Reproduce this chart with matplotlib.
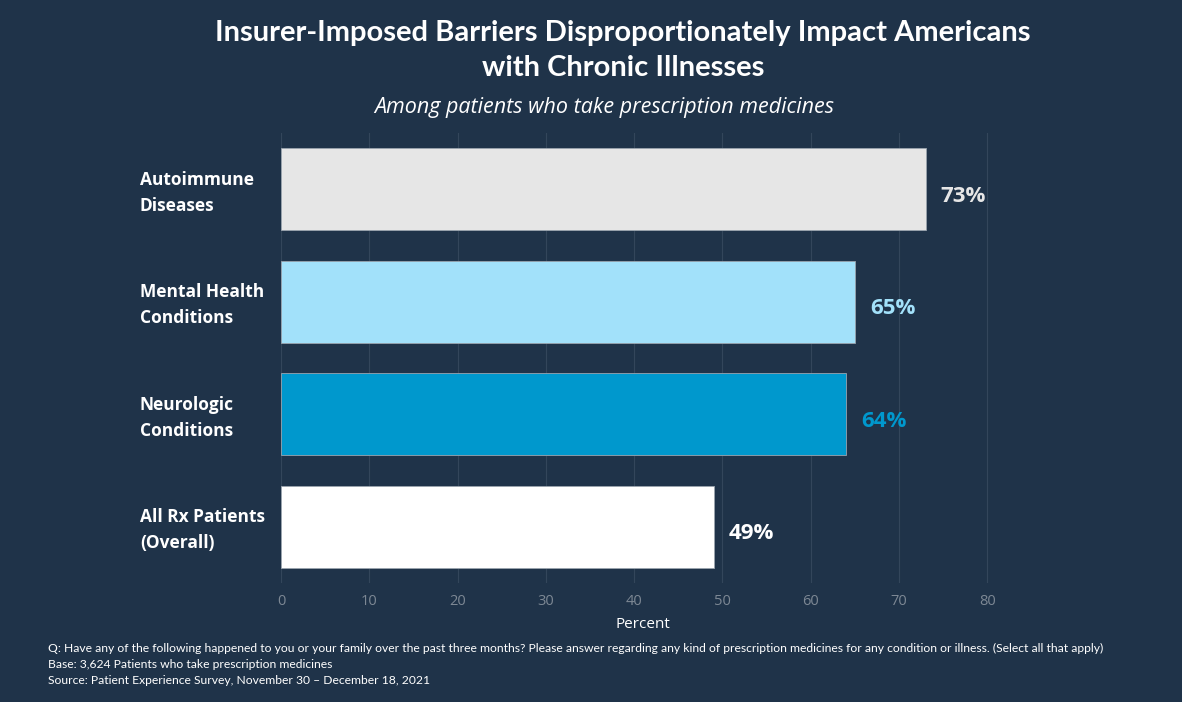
import matplotlib
matplotlib.use("Agg")
import matplotlib.pyplot as plt

categories = ["Autoimmune\nDiseases", "Mental Health\nConditions", "Neurologic\nConditions", "All Rx Patients\n(Overall)"]
values = [73, 65, 64, 49]
bar_colors = ["#E6E6E6", "#A2E1FA", "#0098CD", "#FFFFFF"]
label_colors = ["#E6E6E6", "#A2E1FA", "#0098CD", "#FFFFFF"]
xticks = [0, 10, 20, 30, 40, 50, 60, 70, 80]

title_lines = ["Insurer-Imposed Barriers Disproportionately Impact Americans", "with Chronic Illnesses"]
subtitle = "Among patients who take prescription medicines"
footer = ["Q: Have any of the following happened to you or your family over the past three months? Please answer regarding any kind of prescription medicines for any condition or illness. (Select all that apply)",
          "Base: 3,624 Patients who take prescription medicines",
          "Source: Patient Experience Survey, November 30 \u2013 December 18, 2021"]

BG = "#1F3349"
W, H = 1182, 702
fig = plt.figure(figsize=(W/100, H/100), dpi=100, facecolor=BG)
ax = fig.add_axes([281/W, 119/H, 724/W, 450/H], facecolor=BG)

ypos = list(range(len(categories)))
ax.barh(ypos, values, height=0.73, color=bar_colors, edgecolor="#9AA4AE", linewidth=0.6, zorder=3)
ax.set_ylim(len(categories) - 0.5, -0.5)
ax.set_xlim(0, 82)
ax.set_xticks(xticks)
ax.set_xticklabels([str(t) for t in xticks], color="#7D8894", fontsize=10.5, family="Open Sans")
ax.tick_params(axis="x", length=0, pad=8)
ax.set_yticks([])
for s in ax.spines.values():
    s.set_visible(False)
ax.grid(axis="x", color="#33465B", linewidth=0.8, zorder=0)
ax.set_xlabel("Percent", color="white", fontsize=11, family="Open Sans", labelpad=6)

for y, v, c in zip(ypos, values, label_colors):
    ax.annotate(f"{v}%", (v, y), xytext=(11, -5), textcoords="offset points",
                va="center", ha="left", color=c, fontsize=16, fontweight="bold", family="Open Sans")

for y, cat in zip(ypos, categories):
    ax.annotate(cat, ((140 - 281) / 8.825, y), xytext=(0, -2.5), textcoords="offset points",
                ha="left", va="center", color="white", annotation_clip=False,
                fontsize=12.5, fontweight="bold", family="Open Sans", linespacing=1.55)

fig.text(623/W, 1 - 33/H, title_lines[0], ha="center", va="center", color="white", fontsize=21,
         fontweight="bold", family="Lato")
fig.text(623/W, 1 - 68/H, title_lines[1], ha="center", va="center", color="white", fontsize=21,
         fontweight="bold", family="Lato")
fig.text(604/W, 1 - 108/H, subtitle, ha="center", va="center", color="white", fontsize=15.5,
         style="italic", family="Open Sans")
for i, line in enumerate(footer):
    fig.text(48/W, 1 - (648 + 16*i)/H, line, ha="left", va="center", color="white", fontsize=8.7,
             family="Lato")

fig.savefig("out.png", dpi=100, facecolor=BG)
